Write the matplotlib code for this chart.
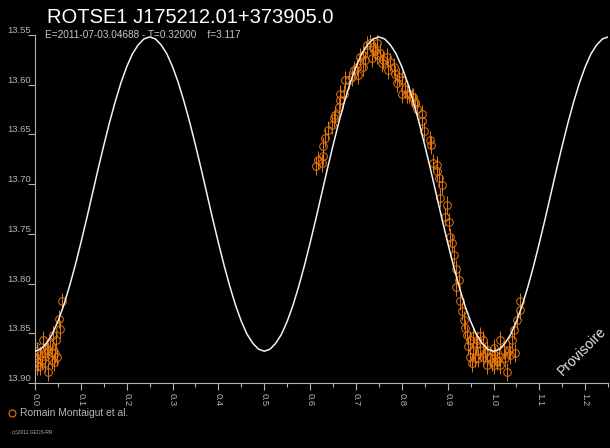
import matplotlib
matplotlib.use("Agg")
import matplotlib.pyplot as plt
from matplotlib.lines import Line2D

# ---- data ----
title = "ROTSE1 J175212.01+373905.0"
subtitle = "E=2011-07-03.04688 - T=0.32000    f=3.117"
observer = "Romain Montaigut et al."

# fitted light curve, every 0.0125 in phase
half_down = [13.868, 13.866, 13.860, 13.851, 13.838, 13.822, 13.803, 13.782, 13.759, 13.735,
             13.710, 13.685, 13.661, 13.638, 13.617, 13.598, 13.582, 13.569, 13.560, 13.554, 13.552]
fit_phase = [i * 0.0125 for i in range(101)]
fit_mag = (half_down + half_down[::-1][1:] + half_down[1:] + half_down[::-1][1:] + half_down[1:])

# observations (phase, magnitude)
obs_phase = [0.059, 0.053, 0.055, 0.040, 0.046, 0.017, 0.033, 0.004, 0.011, 0.022, 0.029, 0.036,
             0.044, 0.000, 0.007, 0.015, 0.022, 0.036, 0.041, 0.029, 0.011, 0.005, 0.026, 0.048,
             0.612, 0.618, 0.626, 0.628, 0.629, 0.633, 0.640, 0.647, 0.651, 0.655, 0.662, 0.665,
             0.665, 0.673, 0.676, 0.684, 0.691, 0.695, 0.702, 0.709, 0.716, 0.724, 0.731, 0.738,
             0.746, 0.735, 0.746, 0.753, 0.760, 0.767, 0.775, 0.782, 0.786, 0.793, 0.800, 0.807,
             0.815, 0.822, 0.829, 0.833, 0.716, 0.756, 0.800, 0.705, 0.720, 0.742, 0.770, 0.790,
             0.811, 0.825, 0.829, 0.844, 0.844, 0.849, 0.862, 0.863, 0.869, 0.876, 0.876, 0.880,
             0.887, 0.884, 0.898, 0.895, 0.902, 0.906, 0.909,
             0.914, 0.919, 0.924, 0.919, 0.926, 0.931, 0.935, 0.938, 0.942, 0.949, 0.956, 0.964,
             0.971, 0.978, 0.945, 0.956, 0.971, 0.986, 1.000, 1.015, 1.022, 1.033, 1.040, 1.047,
             1.044, 1.051, 1.058, 1.058, 0.949, 0.960, 0.967, 0.978, 0.993, 1.004, 1.011, 1.026,
             1.036, 0.953, 0.986, 1.000, 1.015, 1.029, 0.996, 0.962, 0.982, 1.008]
obs_mag = [13.818, 13.836, 13.846, 13.852, 13.857, 13.857, 13.861, 13.868, 13.872, 13.870, 13.868, 13.869,
           13.870, 13.874, 13.879, 13.877, 13.880, 13.877, 13.879, 13.889, 13.883, 13.883, 13.866, 13.874,
           13.682, 13.676, 13.679, 13.672, 13.662, 13.654, 13.646, 13.641, 13.634, 13.630, 13.622, 13.615,
           13.609, 13.609, 13.595, 13.595, 13.592, 13.585, 13.582, 13.572, 13.570, 13.560, 13.558, 13.562,
           13.558, 13.573, 13.570, 13.568, 13.575, 13.572, 13.577, 13.582, 13.589, 13.592, 13.595, 13.604,
           13.609, 13.612, 13.617, 13.624, 13.582, 13.578, 13.609, 13.590, 13.575, 13.566, 13.585, 13.598,
           13.609, 13.612, 13.619, 13.629, 13.637, 13.647, 13.656, 13.661, 13.679, 13.681, 13.687, 13.694,
           13.701, 13.714, 13.721, 13.733, 13.738, 13.753, 13.759,
           13.771, 13.785, 13.796, 13.803, 13.818, 13.828, 13.837, 13.845, 13.852, 13.857, 13.853, 13.857,
           13.853, 13.857, 13.863, 13.867, 13.867, 13.867, 13.865, 13.857, 13.867, 13.867, 13.857, 13.870,
           13.847, 13.837, 13.827, 13.818, 13.874, 13.875, 13.875, 13.874, 13.874, 13.872, 13.874, 13.875,
           13.872, 13.880, 13.882, 13.882, 13.882, 13.889, 13.879, 13.862, 13.870, 13.878]
obs_err = 0.009

x_ticks = [0.0, 0.1, 0.2, 0.3, 0.4, 0.5, 0.6, 0.7, 0.8, 0.9, 1.0, 1.1, 1.2]
x_minor = [0.05 + 0.1 * i for i in range(13)]
y_ticks = [13.55, 13.60, 13.65, 13.70, 13.75, 13.80, 13.85, 13.90]

orange = "#e8760c"
grey = "#b4b4b4"
narrow = ["Liberation Sans Narrow", "Liberation Sans", "DejaVu Sans"]

plt.rcParams["font.family"] = ["Liberation Sans", "DejaVu Sans"]

fig = plt.figure(figsize=(6.1, 4.48), dpi=100, facecolor="black")
ax = fig.add_axes([0.0574, 0.145, 0.9396, 0.777], facecolor="black")

ax.errorbar(obs_phase, obs_mag, yerr=obs_err, fmt="o", ms=5.5, mfc="none", mec=orange,
            mew=0.7, ecolor=orange, elinewidth=0.7, capsize=0, zorder=2)
ax.plot(fit_phase, fit_mag, color="#f2f2f2", lw=1.1, zorder=3)

ax.set_xlim(0.0, 1.25)
ax.set_ylim(13.90, 13.55)

for s in ["top", "right"]:
    ax.spines[s].set_visible(False)
for s in ["left", "bottom"]:
    ax.spines[s].set_color(grey)
    ax.spines[s].set_linewidth(0.8)

ax.set_xticks(x_ticks)
ax.set_xticklabels(["%.1f" % t for t in x_ticks], rotation=-90, family=narrow, fontsize=6.8)
ax.set_xticks(x_minor, minor=True)
ax.tick_params(axis="x", which="major", colors=grey, length=5, width=0.8, pad=2)
ax.tick_params(axis="x", which="minor", colors=grey, length=3, width=0.8)

ax.set_yticks(y_ticks)
ax.set_yticklabels(["%.2f" % t for t in y_ticks], family=narrow, fontsize=6.8)
ax.tick_params(axis="y", colors=grey, length=5, width=0.8, pad=-2)
for lab in ax.get_yticklabels():
    lab.set_va("bottom")

# header
fig.text(0.077, 0.948, title, color="white", fontsize=14.5, va="baseline")
fig.text(0.0738, 0.916, subtitle, color="#c8c8c8", fontsize=7.2, va="baseline", family=narrow)

# little marker on the left axis
ax.text(0.002, 13.862, ">", color=grey, fontsize=6, va="center", ha="left")

# watermark
fig.text(0.922, 0.16, "Provisoire", color="#e6e6e6", fontsize=10, rotation=45,
         rotation_mode="anchor", ha="left", va="baseline")

# legend and credit
fig.add_artist(Line2D([0.0197], [0.078], marker="o", ms=5, mfc="none", mec=orange,
                      mew=0.8, ls="none", transform=fig.transFigure))
fig.text(0.033, 0.078, observer, color=grey, fontsize=7.4, va="center", family=narrow)
fig.text(0.02, 0.0335, "(c)2011 GEOS-RR", color=grey, fontsize=3.5, va="center")

fig.savefig("out.png", dpi=100, facecolor="black")
